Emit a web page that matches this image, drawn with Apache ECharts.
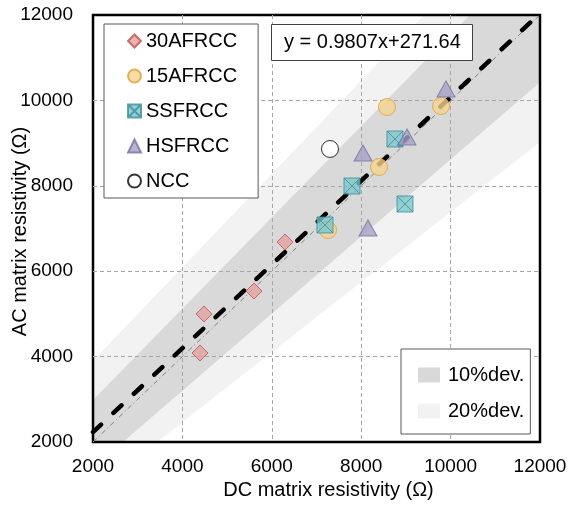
<!DOCTYPE html>
<html><head><meta charset="utf-8">
<script src="https://cdn.jsdelivr.net/npm/echarts@6/dist/echarts.min.js"></script>
<style>html,body{margin:0;padding:0;background:#fff}#c{width:568px;height:506px}</style>
</head><body><div id="c"></div>
<script>
// ---- data ----
const xTicks = [2000, 4000, 6000, 8000, 10000, 12000];
const yTicks = [2000, 4000, 6000, 8000, 10000, 12000];
const s30AFRCC = [[4394, 4084], [4483, 4998], [5602, 5536], [6295, 6684]];
const s15AFRCC = [[7257, 6965], [8398, 8440], [8577, 9845], [9785, 9869]];
const sSSFRCC  = [[7190, 7082], [7794, 7995], [8756, 9096], [8980, 7574]];
const sHSFRCC  = [[8040, 8768], [8152, 7012], [9025, 9143], [9897, 10267]];
const sNCC     = [[7302, 8862]];
const fitLine  = [[2000, 2233], [12000, 12040]];
const oneToOne = [[2000, 2000], [12000, 12000]];
const band10 = [[2000, 2000], [2000, 2984], [10434, 12000], [12000, 12000], [12000, 10424], [2671, 2000]];
const band20 = [[2000, 2000], [2000, 3900], [9405, 12000], [12000, 12000], [12000, 9026], [3432, 2000]];
const equationText = 'y = 0.9807x+271.64';
const seriesNames = ['30AFRCC', '15AFRCC', 'SSFRCC', 'HSFRCC', 'NCC'];
const bandNames = ['10%dev.', '20%dev.'];

const FONT = '"Liberation Sans", Arial, sans-serif';
const chart = echarts.init(document.getElementById('c'), null, {renderer: 'canvas'});

function bandSeries(name, verts, color) {
  return {
    type: 'custom', name: name, z: -1, silent: true,
    data: verts,
    itemStyle: {color: color},
    renderItem: function (params, api) {
      if (params.dataIndex !== 0) return null;
      const pts = verts.map(p => api.coord(p));
      return {type: 'polygon', shape: {points: pts}, style: {fill: color}};
    }
  };
}

const axisCommon = {
  type: 'value', min: 2000, max: 12000, interval: 2000,
  axisLine: {show: false}, axisTick: {show: false},
  splitLine: {show: true, showMinLine: false, showMaxLine: false, lineStyle: {color: '#a6a6a6', width: 1, type: [4, 3]}},
  axisLabel: {fontSize: 19, color: '#000', fontFamily: FONT, formatter: v => String(v)},
  nameLocation: 'middle',
  nameMoveOverlap: false,
  nameTextStyle: {fontSize: 20, color: '#000', fontFamily: FONT}
};

const option = {
  animation: false,
  backgroundColor: '#fff',
  textStyle: {fontFamily: FONT},
  title: {
    text: equationText, left: 271, top: 24,
    padding: [8, 12, 8, 13], borderColor: '#404040', borderWidth: 1, backgroundColor: '#fff',
    textStyle: {fontSize: 20, fontWeight: 'normal', color: '#000', fontFamily: FONT, lineHeight: 21}
  },
  grid: {left: 93, right: 28, top: 15, bottom: 64, show: true, borderColor: '#000', borderWidth: 2.5,
         backgroundColor: 'transparent', containLabel: false, outerBoundsMode: 'none'},
  xAxis: Object.assign({}, axisCommon, {
    name: 'DC matrix resistivity (Ω)', nameGap: 38,
    axisLabel: Object.assign({}, axisCommon.axisLabel, {margin: 15, customValues: xTicks}),
    nameTextStyle: Object.assign({}, axisCommon.nameTextStyle, {padding: [0, 0, 0, 24]})
  }),
  yAxis: Object.assign({}, axisCommon, {
    name: 'AC matrix resistivity (Ω)', nameGap: 63,
    axisLabel: Object.assign({}, axisCommon.axisLabel, {margin: 20, customValues: yTicks}),
    nameTextStyle: Object.assign({}, axisCommon.nameTextStyle, {padding: [0, 6, 0, 0]})
  }),
  legend: [
    {
      data: seriesNames, orient: 'vertical', left: 104, top: 24,
      padding: [7, 21, 7, 23], itemGap: 15, itemWidth: 13, itemHeight: 13,
      borderColor: '#595959', borderWidth: 1, backgroundColor: '#fff',
      textStyle: {fontSize: 20, color: '#000', lineHeight: 20, fontFamily: FONT},
      selectedMode: false
    },
    {
      data: bandNames, orient: 'vertical', left: 401, top: 349, icon: 'rect',
      padding: [16, 6, 13, 17], itemGap: 16, itemWidth: 22, itemHeight: 15,
      borderColor: '#595959', borderWidth: 1, backgroundColor: '#fff',
      textStyle: {fontSize: 20, color: '#000', lineHeight: 20, fontFamily: FONT, padding: [0, 0, 0, 3]},
      selectedMode: false
    }
  ],
  series: [
    bandSeries('20%dev.', band20, '#f2f2f2'),
    bandSeries('10%dev.', band10, '#d9d9d9'),
    {
      type: 'line', name: '1:1', data: oneToOne, symbol: 'none', silent: true, z: 3,
      lineStyle: {color: '#808080', width: 1, type: [5, 3, 1, 3]}
    },
    {
      type: 'line', name: 'fit', data: fitLine, symbol: 'none', silent: true, z: 4,
      lineStyle: {color: '#000', width: 4.5, type: [11, 17], cap: 'round'}
    },
    {
      type: 'scatter', name: '30AFRCC', data: s30AFRCC, symbol: 'diamond', symbolSize: 16, z: 5,
      itemStyle: {color: '#e0a39e', borderColor: '#c0504d', borderWidth: 1}
    },
    {
      type: 'scatter', name: '15AFRCC', data: s15AFRCC, symbol: 'circle', symbolSize: 17, z: 5,
      itemStyle: {color: '#f5d38e', borderColor: '#d9a03a', borderWidth: 1}
    },
    {
      type: 'scatter', name: 'SSFRCC', data: sSSFRCC, symbol: 'path://M0,0L20,0L20,20L0,20Z M0,0L20,20 M20,0L0,20', symbolSize: 16, z: 5,
      itemStyle: {color: '#7cc5cc', borderColor: '#3a8f9a', borderWidth: 1}
    },
    {
      type: 'scatter', name: 'HSFRCC', data: sHSFRCC, symbol: 'triangle', symbolSize: [18, 16], z: 5,
      itemStyle: {color: '#a5a1c6', borderColor: '#7671a0', borderWidth: 1}
    },
    {
      type: 'scatter', name: 'NCC', data: sNCC, symbol: 'circle', symbolSize: 17, z: 5,
      itemStyle: {color: '#fff', borderColor: '#000', borderWidth: 1}
    }
  ]
};
chart.setOption(option);
</script>
</body></html>
